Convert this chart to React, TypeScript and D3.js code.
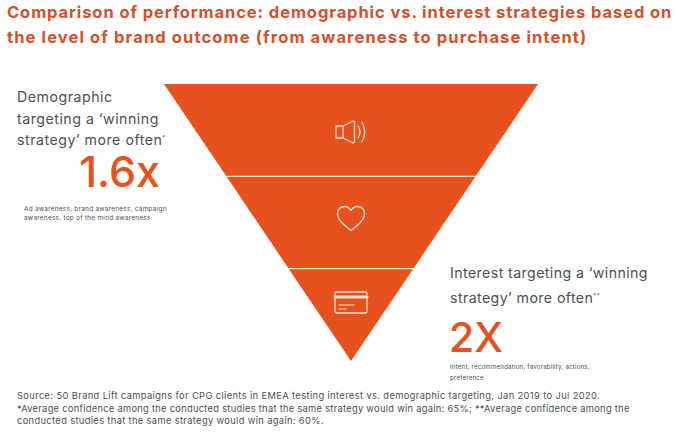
import React from "react";
import * as d3 from "d3";

const W = 679, H = 435;
const levels = ["Awareness", "Consideration", "Purchase intent"];
const levelBounds = [0, 1, 2, 3];
const titleLines = [
  "Comparison of performance: demographic vs. interest strategies based on",
  "the level of brand outcome (from awareness to purchase intent)",
];
const leftLabel = ["Demographic", "targeting a ‘winning", "strategy’ more often"];
const leftValue = "1.6x";
const leftNote = ["Ad awareness, brand awareness, campaign", "awareness, top of the mind awareness"];
const rightLabel = ["Interest targeting a ‘winning", "strategy’ more often"];
const rightValue = "2X";
const rightNote = ["Intent, recommendation, favorability, actions,", "preference"];
const sourceLines = [
  "Source: 50 Brand Lift campaigns for CPG clients in EMEA testing interest vs. demographic targeting, Jan 2019 to Jul 2020.",
  "*Average confidence among the conducted studies that the same strategy would win again: 65%; **Average confidence among the",
  "conducted studies that the same strategy would win again: 60%.",
];

const ORANGE = "#E7511E";
const TITLE = "#D2502B";
const GREY = "#4D4F52";
const FONT = "Inter, 'Noto Sans', sans-serif";
const ICON = "#FBDCCB";
const titleSpacing = [0.91, 1.12];
const sourceSpacing = [0.385, 0.29, 0.36];

export default function App() {
  const y = d3.scaleLinear().domain([0, 3]).range([84, 361]);
  const half = d3.scaleLinear().domain([0, 3]).range([187, 0]);
  const cx = 351;
  const line = d3.line<[number, number]>();
  const tri = (a: number, b: number) =>
    line([
      [cx - half(a), y(a)],
      [cx + half(a), y(a)],
      [cx + half(b), y(b)],
      [cx - half(b), y(b)],
    ])! + "Z";

  return (
    <svg width={W} height={H} viewBox={`0 0 ${W} ${H}`}
      style={{ position: "absolute", left: 0, top: 0, background: "#fff", fontFamily: FONT }}>
      {titleLines.map((t, i) => (
        <text key={i} x={7} y={18 + i * 25} fontSize={16.5} fontWeight={700} fill={TITLE} letterSpacing={titleSpacing[i]}>{t}</text>
      ))}

      {levels.map((l, i) => (
        <path key={l} d={tri(levelBounds[i], levelBounds[i + 1])} fill={ORANGE} />
      ))}
      {levelBounds.slice(1, 3).map((b) => (
        <line key={b} x1={cx - half(b)} x2={cx + half(b)} y1={y(b)} y2={y(b)} stroke="#FBE3D6" strokeWidth={1.3} />
      ))}

      {/* speaker */}
      <g transform="translate(351,132)" fill="none" stroke={ICON} strokeWidth={1.3} strokeLinejoin="round" strokeLinecap="round">
        <path d="M-15,-6 H-8 L2,-11 Q3.5,-11 3.5,-9 V9 Q3.5,11 2,11 L-8,6 H-15 Z" />
        <path d="M-8,-6 V6" />
        <path d="M7,-6 Q11,0 7,6" />
        <path d="M11,-9.5 Q16.5,0 11,9.5" />
      </g>
      {/* heart */}
      <g transform="translate(351,218)" fill="none" stroke={ICON} strokeWidth={1.4} strokeLinejoin="round">
        <path d="M0,12.5 C-7,7 -13.5,2 -13.5,-4.5 C-13.5,-9 -10,-11.5 -6.5,-11.5 C-3.5,-11.5 -1.5,-10 0,-7.5 C1.5,-10 3.5,-11.5 6.5,-11.5 C10,-11.5 13.5,-9 13.5,-4.5 C13.5,2 7,7 0,12.5 Z" />
      </g>
      {/* card */}
      <g transform="translate(351,303)" fill="none" stroke={ICON} strokeLinecap="round">
        <rect x={-16} y={-11} width={32} height={21} rx={1.5} strokeWidth={1.3} />
        <path d="M-16,-6 H16" strokeWidth={3} />
        <path d="M-12,2 H3 M-12,6 H-5" strokeWidth={1.2} />
      </g>

      {leftLabel.map((t, i) => (
        <text key={i} x={17} y={102 + i * 21.7} fontSize={14.2} fill={GREY} letterSpacing={0.5}>
          {t}{i === 2 && <tspan fontSize={6} dy={-5}>*</tspan>}
        </text>
      ))}
      <text x={160} y={187} textAnchor="end" fontSize={43} fontWeight={500} fill={ORANGE}>{leftValue}</text>
      {leftNote.map((t, i) => (
        <text key={i} x={24} y={211 + i * 8.5} fontSize={6.4} fill={GREY} letterSpacing={0.28}>{t}</text>
      ))}

      {rightLabel.map((t, i) => (
        <text key={i} x={450} y={278 + i * 25} fontSize={14.2} fill={GREY} letterSpacing={0.4}>
          {t}{i === 1 && <tspan fontSize={6} dy={-5}>**</tspan>}
        </text>
      ))}
      <text x={449} y={352} fontSize={41} fontWeight={500} fill={ORANGE}>{rightValue}</text>
      {rightNote.map((t, i) => (
        <text key={i} x={450} y={369 + i * 10.5} fontSize={6.2} fill={GREY} letterSpacing={0.18}>{t}</text>
      ))}

      {sourceLines.map((t, i) => (
        <text key={i} x={17} y={399 + i * 12.5} fontSize={9.3} fill={GREY} letterSpacing={sourceSpacing[i]}>{t}</text>
      ))}
    </svg>
  );
}
